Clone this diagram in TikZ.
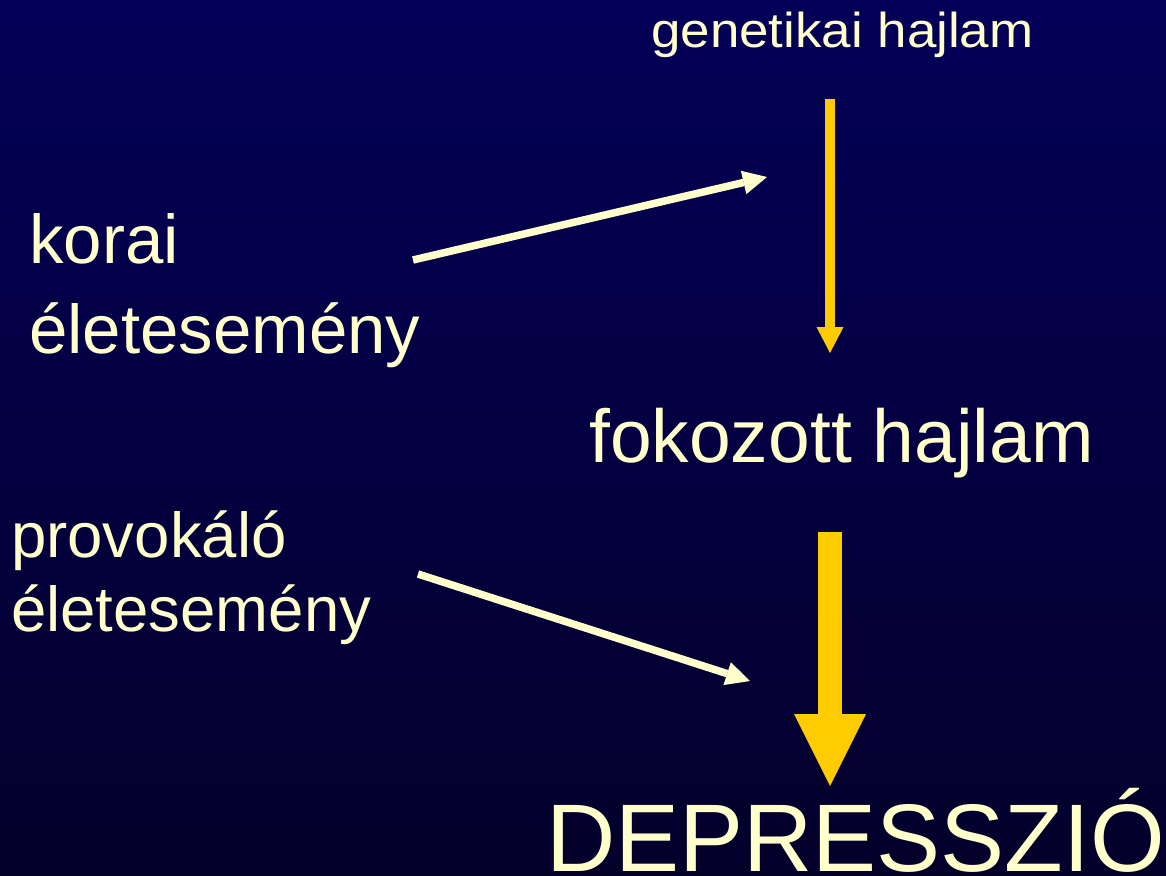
\documentclass[tikz,border=0pt]{standalone}
\usepackage{fontspec}
\setmainfont{Liberation Sans}
\newfontfamily\widefont[FakeStretch=1.08]{Liberation Sans}
\usetikzlibrary{arrows.meta}
\definecolor{cream}{RGB}{255,255,204}
\definecolor{gold}{RGB}{255,204,0}
\definecolor{navytop}{RGB}{4,0,88}
\definecolor{navybot}{RGB}{4,0,42}

\begin{document}
\begin{tikzpicture}
  [x=1pt,y=-1pt,every node/.style={text=cream,inner sep=0pt,anchor=base west,align=left},
   lightarrow/.style={draw=cream,line width=7.5pt,-{Triangle[width=24pt,length=24pt,line width=0pt]}},
   thingold/.style={draw=gold,line width=10pt,-{Triangle[width=27pt,length=26pt,line width=0pt]}},
   thickgold/.style={draw=gold,line width=24pt,-{Triangle[width=72pt,length=72pt,line width=0pt]}}]
  \useasboundingbox (0,0) rectangle (1166,875);
  \shade[top color=navytop,bottom color=navybot] (0,0) rectangle (1166,875);

  % base anchor of a two-line node sits on its last line
  \node[font=\widefont\fontsize{49}{59}\selectfont] (gen) at (651,48) {genetikai hajlam};
  \node[font=\fontsize{69}{90}\selectfont] (korai) at (29,353) {korai\\életesemény};
  \node[font=\fontsize{75}{90}\selectfont] (fok) at (589,462) {fokozott hajlam};
  \node[font=\fontsize{63.5}{74}\selectfont] (provok) at (11,631) {provokáló\\életesemény};
  \node[font=\fontsize{96}{115}\selectfont] (depr) at (546,871) {DEPRESSZIÓ};

  \coordinate (g1) at (830,99);  \coordinate (g2) at (830,353);
  \coordinate (f1) at (830,532); \coordinate (f2) at (830,786);
  \coordinate (k1) at (413,260); \coordinate (k2) at (767,177);
  \coordinate (p1) at (418,574); \coordinate (p2) at (750,681);

  \draw[thingold] (g1) -- (g2);
  \draw[thickgold] (f1) -- (f2);
  \foreach \from/\to in {k1/k2,p1/p2}
    \draw[lightarrow] (\from) -- (\to);
\end{tikzpicture}
\end{document}
